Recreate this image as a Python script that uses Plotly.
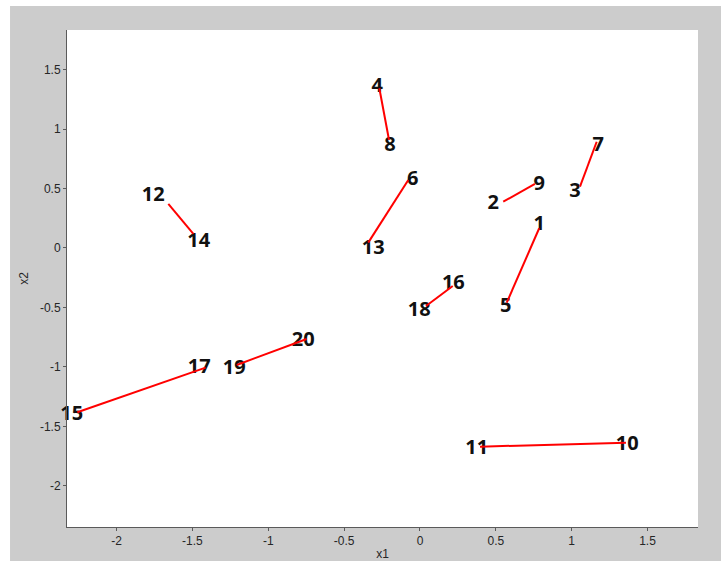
import plotly.graph_objects as go

# Labelled points (label anchor positions in x1/x2 space)
point_ids = [str(i) for i in range(1, 21)]
point_x1 = [0.786, 0.483, 1.022, -0.281, 0.565, -0.048, 1.175, -0.198, 0.786, 1.367,
            0.374, -1.758, -0.308, -1.459, -2.296, 0.220, -1.455, -0.005, -1.224, -0.769]
point_x2 = [0.196, 0.372, 0.473, 1.349, -0.499, 0.574, 0.859, 0.854, 0.526, -1.659,
            -1.690, 0.433, -0.009, 0.049, -1.401, -0.304, -1.009, -0.527, -1.015, -0.779]

# Red link segments between paired points
seg_x1_start = [-0.268, -0.077, 0.549, 1.055, 0.786, 0.216, -1.659, -2.259, -1.208, 0.396]
seg_x2_start = [1.342, 0.571, 0.389, 0.515, 0.166, -0.319, 0.370, -1.381, -0.983, -1.670]
seg_x1_end = [-0.204, -0.341, 0.758, 1.165, 0.572, 0.040, -1.494, -1.413, -0.747, 1.358]
seg_x2_end = [0.908, 0.045, 0.538, 0.893, -0.460, -0.487, 0.118, -1.006, -0.765, -1.636]

x_ticks = [-2, -1.5, -1, -0.5, 0, 0.5, 1, 1.5]
y_ticks = [-2, -1.5, -1, -0.5, 0, 0.5, 1, 1.5]
x_range = [-2.327, 1.833]
y_range = [-2.345, 1.832]

line_x, line_y = [], []
for xa, ya, xb, yb in zip(seg_x1_start, seg_x2_start, seg_x1_end, seg_x2_end):
    line_x += [xa, xb, None]
    line_y += [ya, yb, None]

fig = go.Figure()
fig.add_trace(go.Scatter(
    x=point_x1, y=point_x2, text=point_ids, mode="text",
    textposition="middle center", cliponaxis=False,
    textfont=dict(family="Noto Sans", size=20, color="#111111", weight="bold"),
    hoverinfo="skip", showlegend=False,
))
fig.add_trace(go.Scatter(
    x=line_x, y=line_y, mode="lines", cliponaxis=False,
    line=dict(color="#ff0000", width=2),
    hoverinfo="skip", showlegend=False,
))

# Gray figure panel with a thin white border on the top/left, then the white plot area
fig.add_shape(type="rect", xref="paper", yref="paper",
              x0=-0.0903, x1=1.04, y0=-0.075, y1=1.0483,
              fillcolor="#cccccc", line=dict(width=0), layer="below")
fig.add_shape(type="rect", xref="paper", yref="paper",
              x0=0, x1=1, y0=0, y1=1,
              fillcolor="#ffffff", line=dict(width=0), layer="below")

axis_common = dict(
    showgrid=False, zeroline=False, showline=True,
    linecolor="#5a5a5a", linewidth=1,
    ticks="outside", ticklen=3, tickcolor="#5a5a5a",
    tickfont=dict(family="Liberation Sans", size=12, color="#262626"),
)

fig.update_layout(
    width=721, height=561,
    margin=dict(l=67, r=23, t=30, b=34, autoexpand=False),
    paper_bgcolor="#ffffff", plot_bgcolor="#ffffff",
    xaxis=dict(range=x_range, tickvals=x_ticks, ticktext=[f"{v:g}" for v in x_ticks],
               title=dict(text="x1", standoff=2,
                          font=dict(family="Liberation Sans", size=12, color="#262626")),
               **axis_common),
    yaxis=dict(range=y_range, tickvals=y_ticks, ticktext=[f"{v:g}" for v in y_ticks],
               title=dict(text="x2", standoff=8,
                          font=dict(family="Liberation Sans", size=12, color="#262626")),
               **axis_common),
)

fig.write_html("out.html")
